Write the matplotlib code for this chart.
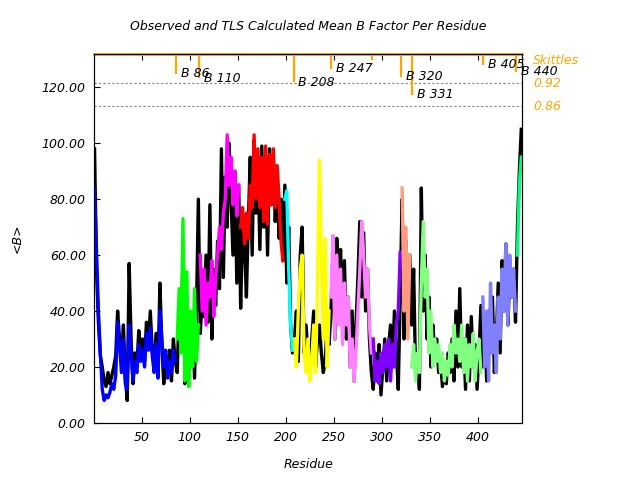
import numpy as np
import matplotlib
matplotlib.use("Agg")
import matplotlib.pyplot as plt

# residues sampled every 2
residues = np.arange(1, 446, 2)

observed_b = [
    98, 55, 36, 24, 20, 15, 13, 18, 14, 17,
    20, 24, 40, 30, 22, 35, 16, 8, 57, 30,
    14, 25, 20, 33, 26, 30, 22, 36, 28, 40,
    26, 20, 32, 18, 50, 28, 14, 24, 18, 26,
    15, 30, 22, 18, 40, 28, 61, 14, 32, 22,
    20, 36, 16, 40, 80, 32, 45, 38, 60, 36,
    78, 30, 55, 42, 65, 48, 98, 52, 88, 70,
    100, 80, 60, 90, 50, 85, 41, 70, 64, 45,
    72, 95, 60, 101, 75, 95, 62, 99, 70, 90,
    60, 98, 78, 96, 72, 88, 66, 80, 58, 85,
    50, 70, 35, 25, 30, 40, 22, 60, 70, 25,
    35, 25, 22, 30, 40, 20, 30, 35, 25, 18,
    22, 35, 28, 40, 60, 30, 66, 50, 62, 35,
    58, 30, 45, 20, 40, 15, 35, 52, 72, 45,
    68, 40, 55, 30, 18, 12, 25, 15, 28, 10,
    20, 30, 15, 28, 35, 20, 40, 25, 12, 45,
    80, 30, 65, 40, 60, 35, 55, 18, 25, 12,
    84, 40, 60, 30, 45, 20, 35, 25, 30, 18,
    22, 13, 20, 14, 25, 18, 30, 15, 40, 20,
    48, 20, 30, 12, 35, 15, 38, 20, 28, 12,
    25, 42, 20, 35, 15, 40, 25, 45, 18, 30,
    50, 25, 58, 40, 64, 35, 52, 45, 55, 36,
    70, 90, 105,
]

tls_b = [
    84, 62, 40, 25, 12, 8, 10, 9, 11, 14,
    12, 17, 36, 28, 18, 30, 14, 12, 35, 25,
    15, 22, 18, 28, 22, 26, 20, 32, 26, 34,
    24, 18, 28, 16, 40, 30, 20, 26, 16, 22,
    18, 26, 22, 30, 48, 25, 73, 15, 54, 13,
    40, 20, 48, 22, 35, 60, 40, 55, 35, 50,
    45, 58, 38, 52, 60, 70, 62, 75, 80, 103,
    85, 95, 78, 90, 74, 85, 70, 77, 64, 75,
    66, 85, 77, 103, 80, 98, 77, 95, 72, 99,
    71, 96, 78, 98, 77, 92, 80, 65, 58, 80,
    83, 55, 35, 26, 30, 20, 40, 55, 60, 25,
    18, 30, 15, 22, 35, 18, 50, 94, 60, 30,
    66, 20, 40, 45, 67, 30, 60, 35, 55, 28,
    50, 35, 45, 20, 30, 15, 25, 40, 55, 72,
    60, 45, 55, 35, 25, 30, 15, 22, 14, 25,
    18, 28, 20, 30, 15, 28, 20, 35, 40, 61,
    84, 40, 70, 30, 60, 20, 28, 15, 25, 18,
    50, 72, 45, 55, 25, 40, 20, 30, 22, 28,
    18, 25, 15, 22, 17, 28, 20, 35, 25, 30,
    22, 35, 18, 30, 15, 28, 20, 32, 15, 25,
    30, 18, 45, 20, 40, 15, 50, 25, 35, 18,
    45, 30, 55, 40, 64, 35, 60, 45, 55, 40,
    60, 85, 95,
]

# TLS segments: first residue, last residue, colour
seg_starts = [1, 86, 110, 153, 199, 208, 247, 290, 320, 331, 405, 440]
seg_ends = [85, 109, 152, 198, 207, 246, 289, 319, 330, 404, 439, 445]
seg_colors = ["#0000ff", "#00ff00", "#ff00ff", "#ff0000", "#00ffff", "#ffff00",
              "#ff80ff", "#8000ff", "#ff9980", "#80ff80", "#8080ff", "#00ff80"]

# skittles markers
mark_res = [86, 110, 153, 199, 208, 247, 290, 303, 320, 331, 405, 440]
mark_val = [0.944, 0.932, 0.99, 0.99, 0.922, 0.957, 0.98, 0.99, 0.936, 0.89, 0.967, 0.949]
mark_lbl = ["B 86", "B 110", "", "", "B 208", "B 247", "", "", "B 320", "B 331", "B 405", "B 440"]

orange = "#ffa500"

fig = plt.figure(figsize=(6.4, 4.8), dpi=100)
ax = fig.add_axes([0.147, 0.119, 0.669, 0.769])

ax.plot(residues, observed_b, color="black", lw=2.4, zorder=2)
res = np.array(residues)
tls = np.array(tls_b)
for s, e, c in zip(seg_starts, seg_ends, seg_colors):
    m = (res >= s) & (res <= e)
    ax.plot(res[m], tls[m], color=c, lw=2.4, zorder=3)

ax.set_xlim(0.5, 446)
ax.set_ylim(0, 132)
ax.set_yticks(np.arange(0, 121, 20))
ax.set_yticklabels(["%.2f" % v for v in np.arange(0, 121, 20)])
ax.set_xticks(np.arange(50, 401, 50))
ax.tick_params(direction="in", top=True, right=True, length=4, labelsize=9, pad=6)
for lab in ax.get_xticklabels() + ax.get_yticklabels():
    lab.set_style("italic")
ax.set_xlabel("Residue", style="italic", fontsize=9, labelpad=10)
ax.set_ylabel("<B>", style="italic", fontsize=9, labelpad=13)
ax.set_title("Observed and TLS Calculated Mean B Factor Per Residue",
             style="italic", fontsize=9, pad=17)
ax.spines["top"].set_color(orange)
ax.spines["top"].set_linewidth(2)

ax2 = ax.twinx()
ax2.set_ylim(0.049, 0.995)
ax2.set_yticks([])
ax2.axhline(0.92, color="gray", ls=(0, (2, 2)), lw=0.8)
ax2.axhline(0.86, color="gray", ls=(0, (2, 2)), lw=0.8)
for r, v, t in zip(mark_res, mark_val, mark_lbl):
    ax2.vlines(r, v, 0.995, color=orange, lw=1.6)
    if t:
        ax2.text(r + 5, v, t, style="italic", fontsize=9, va="center", ha="left")

tr = ax2.get_yaxis_transform()
ax2.text(1.026, 0.977, "Skittles", color=orange, style="italic", fontsize=9,
         transform=tr, va="center")
ax2.text(1.026, 0.92, "0.92", color=orange, style="italic", fontsize=9,
         transform=tr, va="center")
ax2.text(1.026, 0.86, "0.86", color=orange, style="italic", fontsize=9,
         transform=tr, va="center")

fig.savefig("out.png", dpi=100)
